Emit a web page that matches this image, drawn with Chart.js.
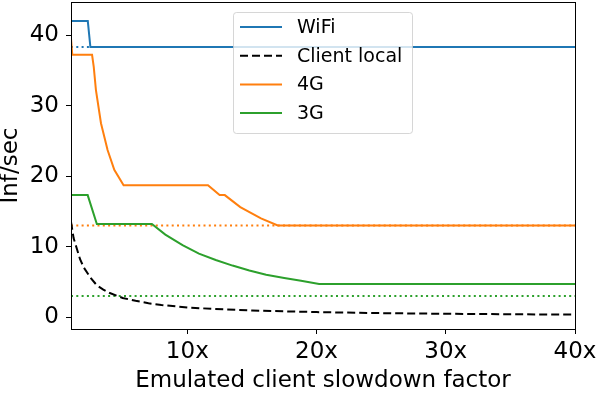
<!DOCTYPE html>
<html>
<head>
<meta charset="utf-8">
<script src="https://cdn.jsdelivr.net/npm/chart.js@4/dist/chart.umd.min.js"></script>
<style>
  html, body { margin: 0; padding: 0; background: #fff; }
  #wrap { width: 598px; height: 393px; }
</style>
</head>
<body>
<div id="wrap"><canvas id="myChart" width="598" height="393"></canvas></div>
<script>
// data
const wifiX = [1, 2.3, 2.5, 40];
const wifiY = [42, 42, 38.3, 38.3];

const localX = [1, 1.2, 1.4, 1.7, 2, 2.5, 3, 3.5, 4, 5, 6, 7, 8, 10, 12, 15, 20, 25, 30, 35, 40];
const localY = [13.5, 11.2, 10.0, 8.2, 7.0, 5.6, 4.5, 3.9, 3.4, 2.7, 2.3, 1.95, 1.7, 1.35, 1.15, 0.92, 0.7, 0.55, 0.46, 0.39, 0.34];

const g4X = [1, 1.1, 2.63, 2.76, 2.93, 3.32, 3.83, 4.35, 5.07, 11.6, 12.5, 12.9, 14.1, 15.7, 17.0, 40];
const g4Y = [39.5, 37.2, 37.2, 35.5, 32.2, 27.5, 23.7, 20.9, 18.7, 18.7, 17.3, 17.3, 15.6, 14.0, 13.0, 13.0];

const g3X = [1, 2.29, 3.0, 7.26, 8.3, 9.63, 10.9, 12.2, 13.5, 14.8, 16.1, 17.5, 18.8, 20.2, 40];
const g3Y = [17.3, 17.3, 13.2, 13.2, 11.7, 10.2, 9.0, 8.1, 7.3, 6.6, 6.0, 5.55, 5.15, 4.7, 4.7];

// dotted reference levels
const refX = [1, 40];
const wifiRef = 38.3;
const g4Ref = 13.0;
const g3Ref = 3.0;

const yTicks = [0, 10, 20, 30, 40];
const xTicks = [10, 20, 30, 40];

const blue = "#1f77b4";
const orange = "#ff7f0e";
const green = "#2ca02c";

function pts(xs, ys) {
    return xs.map((x, i) => ({ x: x, y: ys[i] }));
}
function flat(v) {
    return refX.map((x) => ({ x: x, y: v }));
}

const font = { family: "'DejaVu Sans', sans-serif", size: 23 };

// legend drawn inside the plot, like the original
const boxLegend = {
    id: "boxLegend",
    afterDatasetsDraw(chart) {
        const c = chart.ctx;
        const items = chart.data.datasets.filter((d) => d.label);
        const x0 = 233, y0 = 12, w = 179, h = 121;
        c.save();
        c.beginPath();
        c.roundRect(x0 + 0.5, y0 + 0.5, w, h, 3);
        c.fillStyle = "rgba(255,255,255,0.8)";
        c.fill();
        c.strokeStyle = "rgba(204,204,204,0.8)";
        c.lineWidth = 1;
        c.stroke();
        c.font = "19px 'DejaVu Sans', sans-serif";
        c.textBaseline = "middle";
        items.forEach((d, i) => {
            const y = 27 + i * 28.7;
            c.beginPath();
            c.setLineDash(d.borderDash || []);
            c.strokeStyle = d.borderColor;
            c.lineWidth = 2;
            c.moveTo(240, y);
            c.lineTo(282, y);
            c.stroke();
            c.setLineDash([]);
            c.fillStyle = "#000";
            c.fillText(d.label, 297, y + 1);
        });
        c.restore();
    },
    afterDraw(chart) {
        const a = chart.chartArea;
        const c = chart.ctx;
        c.save();
        c.strokeStyle = "#000";
        c.lineWidth = 1;
        c.strokeRect(Math.round(a.left) + 0.5, Math.round(a.top) + 0.5, Math.round(a.right - a.left), Math.round(a.bottom - a.top));
        c.restore();
    },
};

const ctx = document.getElementById("myChart").getContext("2d");
const myChart = new Chart(ctx, {
    type: "line",
    data: {
        datasets: [
            { label: "WiFi", data: pts(wifiX, wifiY), borderColor: blue },
            { label: "Client local", data: pts(localX, localY), borderColor: "#000", borderDash: [8, 4] },
            { label: "4G", data: pts(g4X, g4Y), borderColor: orange },
            { label: "3G", data: pts(g3X, g3Y), borderColor: green },
            { data: flat(wifiRef), borderColor: blue, borderDash: [2, 3.3] },
            { data: flat(g4Ref), borderColor: orange, borderDash: [2, 3.3] },
            { data: flat(g3Ref), borderColor: green, borderDash: [2, 3.3] },
        ],
    },
    options: {
        responsive: false,
        animation: false,
        devicePixelRatio: 1,
        layout: { padding: { left: 0, right: 23, top: 2, bottom: 0 } },
        elements: {
            line: { borderWidth: 2, tension: 0, fill: false, borderCapStyle: "butt" },
            point: { radius: 0, hoverRadius: 0 },
        },
        plugins: {
            legend: { display: false },
            tooltip: { enabled: false },
        },
        scales: {
            x: {
                type: "linear",
                min: 1,
                max: 40,
                afterBuildTicks: (s) => { s.ticks = xTicks.map((v) => ({ value: v })); },
                afterFit: (s) => { s.height = 64; s.paddingLeft = 0; s.paddingRight = 0; },
                ticks: { color: "#000", font: font, padding: 4, maxRotation: 0, callback: (v) => v + "x" },
                grid: { drawOnChartArea: false, drawTicks: true, tickLength: 5, color: "#000" },
                border: { display: true, color: "#000", width: 1 },
                title: { display: true, text: "Emulated client slowdown factor", color: "#000", font: { ...font, lineHeight: 1 }, padding: 0 },
            },
            y: {
                min: -1.7,
                max: 44.7,
                afterBuildTicks: (s) => { s.ticks = yTicks.map((v) => ({ value: v })); },
                afterFit: (s) => { s.width = 71; s.paddingTop = 0; s.paddingBottom = 0; },
                ticks: { color: "#000", font: font, padding: 7 },
                grid: { drawOnChartArea: false, drawTicks: true, tickLength: 5, color: "#000" },
                border: { display: true, color: "#000", width: 1 },
                title: { display: true, text: "Inf/sec", color: "#000", font: { ...font, lineHeight: 1 }, padding: 0 },
            },
        },
    },
    plugins: [boxLegend],
});
</script>
</body>
</html>
